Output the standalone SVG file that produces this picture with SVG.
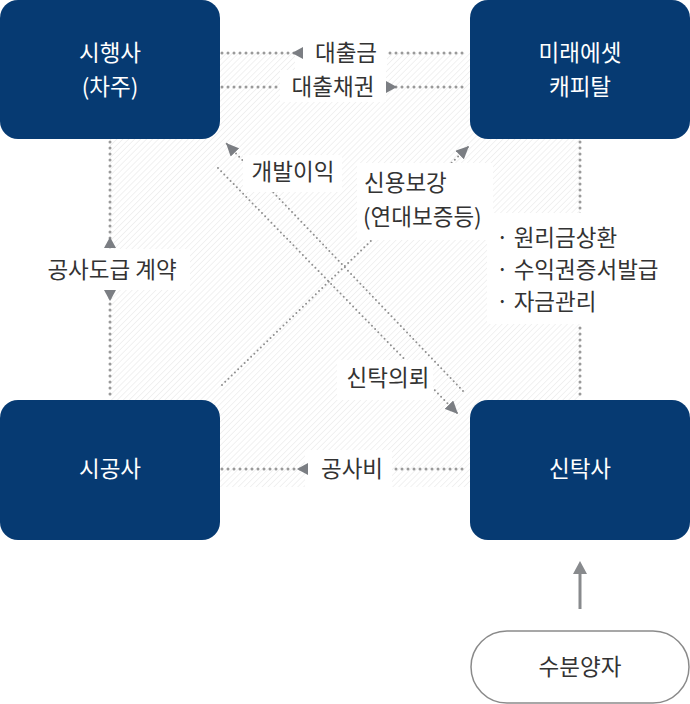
<svg xmlns="http://www.w3.org/2000/svg" width="690" height="704" viewBox="0 0 690 704">
<style>
.box{fill:#063a72}
.bt{font-family:"Noto Sans CJK KR","Noto Sans",sans-serif;font-size:22.5px;fill:#ffffff;text-anchor:middle}
.lt{font-family:"Noto Sans CJK KR","Noto Sans",sans-serif;font-size:22.5px;fill:#333333}
.mid{text-anchor:middle}
.dot{stroke:#9a9a9a;stroke-width:3;stroke-linecap:round;stroke-dasharray:0 6;fill:none}
.ddot{stroke:#8f8f8f;stroke-width:2;stroke-linecap:round;stroke-dasharray:0 4.5;fill:none}
.ah{fill:#7b7e83}
.bg{fill:#ffffff}
</style>
<defs>
<pattern id="hatch" width="4.2" height="10" patternUnits="userSpaceOnUse" patternTransform="rotate(45)">
<line x1="0" y1="0" x2="0" y2="10" stroke="#e4e4e4" stroke-width="1"/>
</pattern>
<marker id="tri" markerUnits="userSpaceOnUse" markerWidth="14" markerHeight="12" refX="13" refY="6" orient="auto">
<path d="M0,0 L13,6 L0,12 z" fill="#7b7e83"/>
</marker>
</defs>
<rect x="110" y="53" width="470" height="434" fill="url(#hatch)"/>
<g id="connectors">
<line class="dot" x1="222" y1="53" x2="468" y2="53"/>
<line class="dot" x1="222" y1="87" x2="468" y2="87"/>
<line class="dot" x1="110" y1="142" x2="110" y2="396"/>
<line class="dot" x1="580" y1="142" x2="580" y2="398"/>
<line class="dot" x1="222" y1="469" x2="468" y2="469"/>
<line class="ddot" x1="463" y1="391" x2="226" y2="143" marker-end="url(#tri)"/>
<line class="ddot" x1="218" y1="168" x2="458" y2="414" marker-end="url(#tri)"/>
<line class="ddot" x1="222" y1="385" x2="469" y2="146" marker-end="url(#tri)"/>
<rect class="bg" x="295" y="38" width="92" height="32"/>
<rect class="bg" x="280" y="70" width="106" height="32"/>
<rect class="bg" x="36" y="249" width="154" height="41"/>
<rect class="bg" x="487" y="213" width="113" height="111"/>
<rect class="bg" x="243" y="155" width="99" height="37"/>
<rect class="bg" x="357" y="163" width="136" height="77"/>
<rect class="bg" x="337" y="360" width="96" height="40"/>
<rect class="bg" x="305" y="450" width="87" height="37"/>
<polygon class="ah" points="292,53 303,47 303,59"/>
<polygon class="ah" points="397,87 386,81 386,93"/>
<polygon class="ah" points="110,237 104,248 116,248"/>
<polygon class="ah" points="110,301 104,290 116,290"/>
<polygon class="ah" points="297,469 308,463 308,475"/>
<line x1="580" y1="609" x2="580" y2="572" stroke="#888a8d" stroke-width="3"/>
<polygon points="573,574 580,561 587,574" fill="#888a8d"/>
<text class="lt mid" x="346" y="61">대출금</text>
<text class="lt mid" x="333" y="95">대출채권</text>
<text class="lt mid" x="293" y="180">개발이익</text>
<text class="lt" x="364" y="191">신용보강</text>
<text class="lt" x="363" y="225">(연대보증등)</text>
<text class="lt mid" x="112" y="278">공사도급 계약</text>
<text class="lt" x="496" y="246">· 원리금상환</text>
<text class="lt" x="496" y="278">· 수익권증서발급</text>
<text class="lt" x="496" y="310">· 자금관리</text>
<text class="lt mid" x="388" y="386">신탁의뢰</text>
<text class="lt mid" x="352" y="477">공사비</text>
</g>
<g id="node-sihaengsa">
<rect class="box" x="0" y="0" width="220" height="139" rx="18"/>
<text class="bt" x="110" y="61">시행사</text>
<text class="bt" x="110" y="95">(차주)</text>
</g>
<g id="node-mirae">
<rect class="box" x="470" y="0" width="220" height="139" rx="18"/>
<text class="bt" x="580" y="61">미래에셋</text>
<text class="bt" x="580" y="95">캐피탈</text>
</g>
<g id="node-sigongsa">
<rect class="box" x="0" y="400" width="220" height="140" rx="18"/>
<text class="bt" x="110" y="477">시공사</text>
</g>
<g id="node-sintaksa">
<rect class="box" x="470" y="400" width="220" height="140" rx="18"/>
<text class="bt" x="580" y="477">신탁사</text>
</g>
<g id="node-subunyangja">
<rect x="471" y="631" width="218" height="72" rx="36" fill="#ffffff" stroke="#8a8a8a" stroke-width="1.5"/>
<text class="lt mid" x="580" y="675">수분양자</text>
</g>
</svg>
